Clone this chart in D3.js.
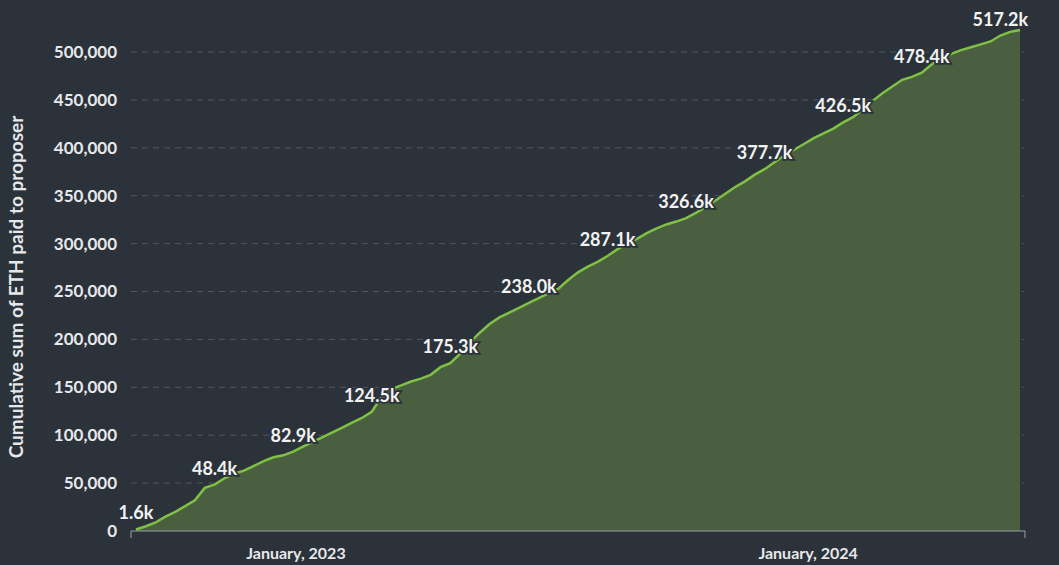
<!DOCTYPE html>
<html>
<head>
<meta charset="utf-8">
<script src="https://cdn.jsdelivr.net/npm/d3@7"></script>
<style>
  body { margin: 0; background: #2c323a; }
  text { font-family: Lato, "Open Sans", sans-serif; font-weight: bold; }
</style>
</head>
<body>
<div id="chart"></div>
<script>
// weekly cumulative ETH paid to proposer, in thousands
const startDate = "2022-09-09";
const cumulative = [
  1.6, 5, 9, 15, 20, 26, 32, 45, 48.4, 55,
  60, 63, 68, 73, 77, 79, 82.9, 88, 93, 98,
  103, 108, 113, 118, 124.5, 140, 148, 152, 156, 159,
  163, 171, 175.3, 185, 197, 207, 216, 223, 228, 233,
  238.0, 243, 248, 253, 262, 270, 276, 281, 287.1, 294,
  300, 305, 311, 316, 320, 323, 326.6, 332, 338, 345,
  352, 359, 365, 372, 377.7, 385, 392, 398, 404, 410,
  415, 420, 426.5, 432, 440, 449, 457, 464, 471, 474,
  478.4, 487, 494, 498, 502, 505, 508, 511, 517.2, 521,
  523
];
const yTicks = [0, 50000, 100000, 150000, 200000, 250000, 300000, 350000, 400000, 450000, 500000];
const xTickDates = ["2023-01-01", "2024-01-01"];
const labelEvery = 8;

const width = 1059, height = 565;
const parse = d3.timeParse("%Y-%m-%d");
const t0 = parse(startDate);
const data = cumulative.map((v, i) => ({ date: d3.timeDay.offset(t0, i * 7), value: v * 1000 }));

const svg = d3.select("#chart").append("svg").attr("width", width).attr("height", height);

const x = d3.scaleTime().domain(d3.extent(data, d => d.date)).range([136, 1020]);
const y = d3.scaleLinear().domain([0, 500000]).range([531, 52]);

// grid
svg.append("g").selectAll("line").data(yTicks.slice(1)).enter().append("line")
  .attr("x1", 131).attr("x2", 1024)
  .attr("y1", d => y(d)).attr("y2", d => y(d))
  .attr("stroke", "#50575f").attr("stroke-dasharray", "6,5");

// area + line
svg.append("path").datum(data)
  .attr("d", d3.area().x(d => x(d.date)).y0(y(0)).y1(d => y(d.value)))
  .attr("fill", "#4a5e40");
svg.append("path").datum(data)
  .attr("d", d3.line().x(d => x(d.date)).y(d => y(d.value)))
  .attr("fill", "none").attr("stroke", "#7ec144").attr("stroke-width", 2.5);

// y axis
svg.append("g").selectAll("text").data(yTicks).enter().append("text")
  .attr("x", 117).attr("y", d => y(d)).attr("dy", "0.35em")
  .attr("text-anchor", "end").attr("fill", "#e6e8ea").attr("font-size", 17)
  .text(d => d3.format(",")(d));

svg.append("text")
  .attr("transform", "translate(23,287) rotate(-90)")
  .attr("text-anchor", "middle").attr("fill", "#e6e8ea").attr("font-size", 19)
  .text("Cumulative sum of ETH paid to proposer");

// x axis
const xa = svg.append("g");
xa.append("line").attr("x1", 131).attr("x2", 1025).attr("y1", 531).attr("y2", 531)
  .attr("stroke", "#9aa0a6");
[131, 1025].forEach(px => xa.append("line").attr("x1", px).attr("x2", px)
  .attr("y1", 531).attr("y2", 538).attr("stroke", "#9aa0a6"));
xa.selectAll("text").data(xTickDates.map(parse)).enter().append("text")
  .attr("x", d => x(d)).attr("y", 559).attr("text-anchor", "middle")
  .attr("fill", "#e6e8ea").attr("font-size", 16)
  .text(d => d3.timeFormat("%B, %Y")(d));

// value labels
const labelled = data.filter((d, i) => i % labelEvery === 0);
svg.append("g").selectAll("text").data(labelled).enter().append("text")
  .attr("x", d => x(d.date)).attr("y", d => y(d.value) - 10)
  .attr("text-anchor", "middle").attr("font-size", 18)
  .attr("fill", "#f2f2f2").attr("stroke", "#2c323a").attr("stroke-width", 3.5)
  .attr("paint-order", "stroke")
  .text(d => (d.value / 1000).toFixed(1) + "k");
</script>
</body>
</html>
